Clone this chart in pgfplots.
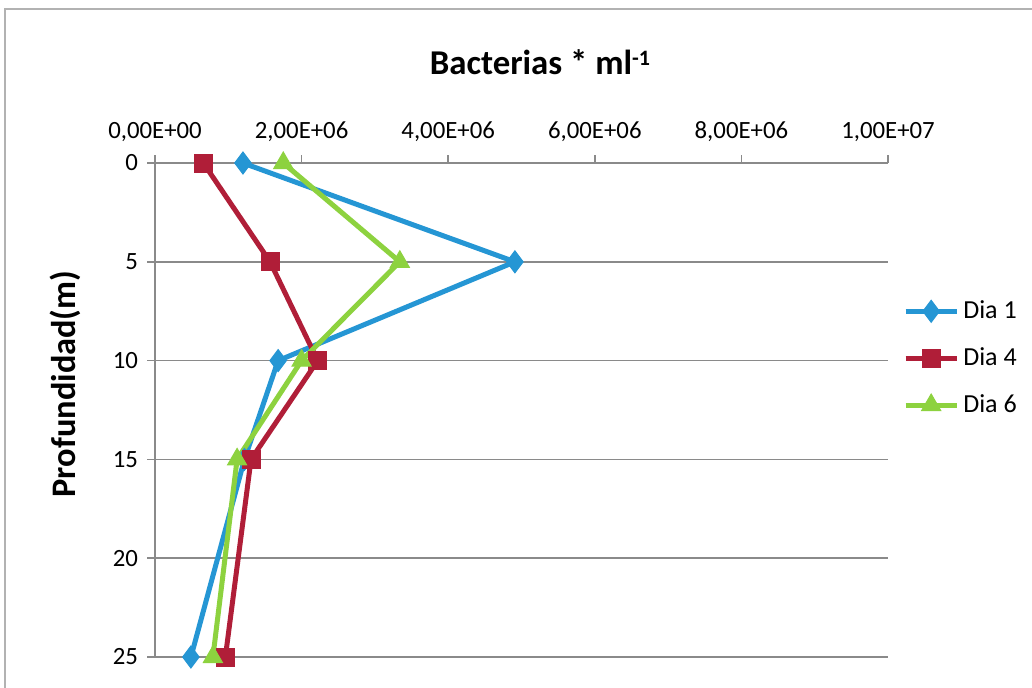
\documentclass[border=0pt]{standalone}
\usepackage{pgfplots}
\pgfplotsset{compat=1.18}
\usepackage{fontspec}
\setmainfont{Carlito}
\definecolor{c1}{HTML}{2596D4}
\definecolor{c4}{HTML}{B01E38}
\definecolor{c6}{HTML}{8DD23F}
\definecolor{gridc}{HTML}{8A8A8A}
\begin{document}
\begin{tikzpicture}
\useasboundingbox (0,0) rectangle (516pt,343.5pt);
\fill[white] (0,0) rectangle (516pt,343.5pt);
\draw[gray!60, line width=0.6pt] (2.5pt,-5pt) -- (2.5pt,339pt) -- (520pt,339pt);
\node[font=\fontsize{17.4}{19}\selectfont\bfseries] at (270pt,312.5pt) {Bacterias * ml\raisebox{0.55ex}{\fontsize{11}{12}\selectfont -1}};
\node[font=\fontsize{17.2}{19}\selectfont\bfseries, rotate=90] at (32.5pt,151.5pt) {Profundidad(m)};
\begin{axis}[
  at={(77.5pt,15pt)}, anchor=south west,
  scale only axis, width=366.5pt, height=247pt,
  xmin=0, xmax=1e7, ymin=0, ymax=25,
  y dir=reverse,
  axis x line*=top, axis y line*=left,
  axis line style={gridc, line width=0.8pt},
  xtick={0,2e6,4e6,6e6,8e6,1e7},
  xticklabels={{0,00E+00},{2,00E+06},{4,00E+06},{6,00E+06},{8,00E+06},{1,00E+07}},
  ytick={0,5,10,15,20,25},
  /pgf/number format/assume math mode=true,
  tick align=outside, major tick length=4pt,
  tick style={gridc, line width=0.8pt},
  ymajorgrids, grid style={gridc, line width=0.8pt},
  ticklabel style={font=\fontsize{12.4}{14}\selectfont},
  xticklabel style={yshift=3pt},
  yticklabel style={xshift=-1pt},
  scaled x ticks=false,
  legend style={at={(1.02,0.605)}, anchor=west, draw=none, fill=none,
    font=\fontsize{13}{15}\selectfont, row sep=9pt, inner xsep=0pt},
  legend cell align=left,
  legend image code/.code={
    \draw[mark repeat=2,mark phase=2,#1] plot coordinates {(0cm,0cm) (0.45cm,0cm) (0.9cm,0cm)};},
  clip=false,
]
\addplot[c1, line width=2.5pt, mark=diamond*, mark size=5.5pt, mark options={solid, line width=0.5pt}] coordinates {
(1.20e6,0) (4.91e6,5) (1.68e6,10) (1.22e6,15) (0.49e6,25)};
\addlegendentry{Dia 1}
\addplot[c4, line width=2.5pt, mark=square*, mark size=4.5pt, mark options={solid, line width=0.5pt}] coordinates {
(0.66e6,0) (1.57e6,5) (2.22e6,10) (1.31e6,15) (0.96e6,25)};
\addlegendentry{Dia 4}
\addplot[c6, line width=2.5pt, mark=triangle*, mark size=5.5pt, mark options={solid, line width=0.5pt}] coordinates {
(1.75e6,0) (3.34e6,5) (2.00e6,10) (1.12e6,15) (0.79e6,25)};
\addlegendentry{Dia 6}
\end{axis}
\end{tikzpicture}
\end{document}
